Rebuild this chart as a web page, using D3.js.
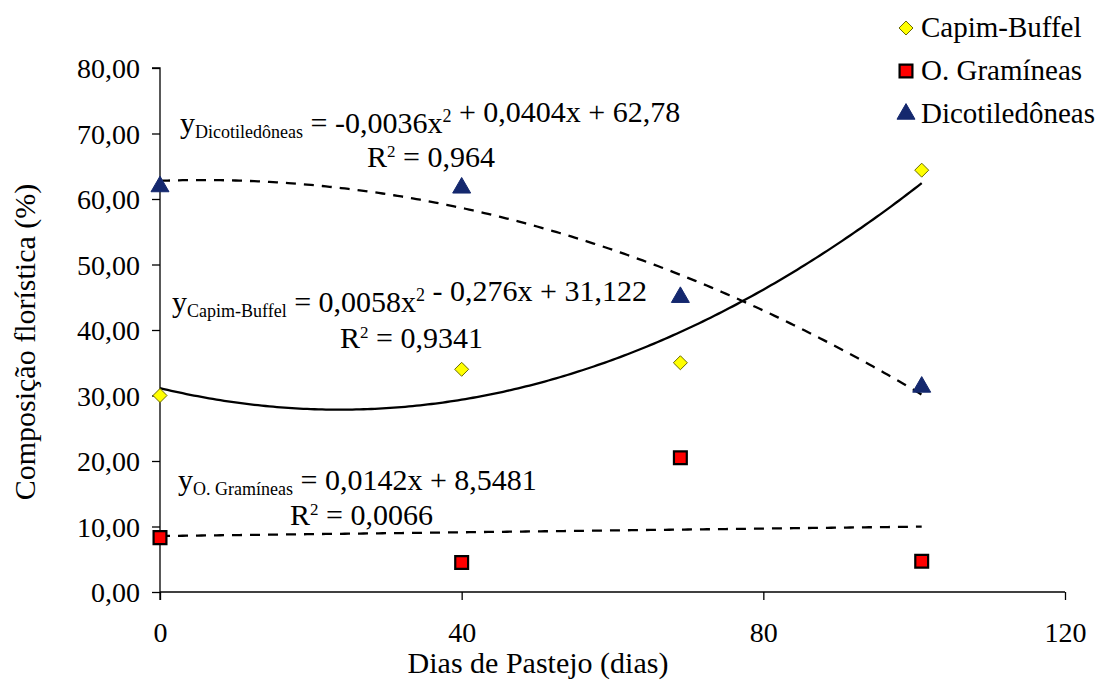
<!DOCTYPE html>
<html><head><meta charset="utf-8">
<script src="https://cdn.jsdelivr.net/npm/d3@7"></script>
<style>
body{margin:0;background:#fff}
svg{display:block}
svg text, svg tspan, .serif { font-family: 'Liberation Serif', 'Times New Roman', Tinos, serif !important; }
</style>
</head><body><svg id="c" width="1100" height="684"></svg>
<script>
const days = [0, 40, 69, 101];
const capimBuffel = [30.0, 34.0, 35.0, 64.4];
const oGramineas = [8.3, 4.5, 20.5, 4.7];
const dicotiledoneas = [61.9, 61.7, 45.0, 31.3];
const xTicks = [0, 40, 80, 120];
const yTicks = [0, 10, 20, 30, 40, 50, 60, 70, 80];
// trend coefficients [a2, a1, a0] as printed on the chart
const coefCapim = [0.0058, -0.276, 31.122];
const coefGram = [0, 0.0142, 8.5481];
const coefDicot = [-0.0036, 0.0404, 62.78];
const seriesNames = ["Capim-Buffel", "O. Gramíneas", "Dicotiledôneas"];

const svg = d3.select("#c").attr("font-family", "Liberation Serif");
const x = d3.scaleLinear().domain([0, 120]).range([160, 1065]);
const y = d3.scaleLinear().domain([0, 80]).range([592, 68]);
const fmt = v => v.toFixed(2).replace(".", ",");
const st = (sel, size) => sel.attr("class", "serif").attr("font-family", "Liberation Serif")
  .style("font-family", "'Liberation Serif'").style("font-size", size + "px").style("fill", "#000");

// axes
const ya = svg.append("g").attr("transform", `translate(${x(0)},0)`)
  .call(d3.axisLeft(y).tickValues(yTicks).tickSize(8).tickPadding(12).tickFormat(fmt));
ya.select(".domain").attr("d", `M-8,${y(80)}H0V${y(0)+8}`);
const xa = svg.append("g").attr("transform", `translate(0,${y(0)})`)
  .call(d3.axisBottom(x).tickValues(xTicks).tickSize(8).tickPadding(12));
xa.select(".domain").attr("d", `M${x(0)},0H${x(120)}`);
svg.selectAll("g").attr("font-family", "Liberation Serif");
svg.selectAll(".tick line, .domain").attr("stroke", "#000").attr("stroke-width", 1.3);
st(svg.selectAll(".tick text"), 28);
ya.selectAll(".tick text").attr("dy", "0.34em");
xa.selectAll(".tick text").attr("y", 50).attr("dy", 0);

st(svg.append("text").attr("x", 538).attr("y", 673).attr("text-anchor", "middle"), 30)
  .text("Dias de Pastejo (dias)");
st(svg.append("text").attr("transform", "translate(35,342) rotate(-90)").attr("text-anchor", "middle"), 30)
  .text("Composição florística (%)");

// trend lines
const poly = c => v => c[0]*v*v + c[1]*v + c[2];
const xs = d3.range(0, 101.01, 0.5);
const line = d3.line().x(d => x(d[0])).y(d => y(d[1]));
function trend(c, dash) {
  const f = poly(c);
  svg.append("path").attr("d", line(xs.map(v => [v, f(v)]))).attr("fill", "none")
    .attr("stroke", "#000").attr("stroke-width", 2.3).attr("stroke-dasharray", dash);
}
trend(coefDicot, "10,8");
trend(coefCapim, null);
trend(coefGram, "10,8");

// markers
const diamond = d3.symbol().type(d3.symbolDiamond2).size(125);
const square = d3.symbol().type(d3.symbolSquare).size(165);
const tri = d3.symbol().type(d3.symbolTriangle).size(140);
function markers(vals, sym, fill, stroke, sw) {
  svg.append("g").selectAll("path").data(vals).join("path")
    .attr("transform", (d, i) => `translate(${x(days[i])},${y(d)})`)
    .attr("d", sym).attr("fill", fill).attr("stroke", stroke).attr("stroke-width", sw);
}
markers(capimBuffel, diamond, "#ffff00", "#6b6b00", 1);
markers(oGramineas, square, "#ff0000", "#000", 2.2);
markers(dicotiledoneas, tri, "#14286e", "#14286e", 1);

// legend
const legSym = [diamond, square, tri];
const legFill = ["#ffff00", "#ff0000", "#14286e"];
const legStroke = ["#6b6b00", "#000", "#14286e"];
const legSW = [1, 2.2, 1];
seriesNames.forEach((n, i) => {
  const ly = 28 + i * 43;
  svg.append("path").attr("transform", `translate(906,${ly})`).attr("d", legSym[i])
    .attr("fill", legFill[i]).attr("stroke", legStroke[i]).attr("stroke-width", legSW[i]);
  st(svg.append("text").attr("x", 921).attr("y", ly + 9), 29).text(n);
});

// equations
function eq(x0, y0, sub, parts, rx, ry, r2) {
  const t = st(svg.append("text").attr("x", x0).attr("y", y0), 30);
  t.append("tspan").text("y");
  t.append("tspan").attr("dy", 5).style("font-size", "18px").text(sub);
  let first = true;
  parts.forEach(p => {
    if (p === "^2") { t.append("tspan").attr("dy", -11).style("font-size", "18px").text("2"); t.append("tspan").attr("dy", 11).text(""); }
    else { const s = t.append("tspan").text(p); if (first) { s.attr("dy", -5); first = false; } }
  });
  const r = st(svg.append("text").attr("x", rx).attr("y", ry), 30);
  r.append("tspan").text("R");
  r.append("tspan").attr("dy", -10).style("font-size", "17px").text("2");
  r.append("tspan").attr("dy", 10).text(" = " + r2);
}
eq(180, 133, "Dicotiledôneas", [" = -0,0036x", "^2", " + 0,0404x + 62,78"], 367, 167, "0,964");
eq(172, 312, "Capim-Buffel", [" = 0,0058x", "^2", " - 0,276x + 31,122"], 340, 348, "0,9341");
eq(178, 490, "O. Gramíneas", [" = 0,0142x + 8,5481"], 290, 525, "0,0066");
</script></body></html>
